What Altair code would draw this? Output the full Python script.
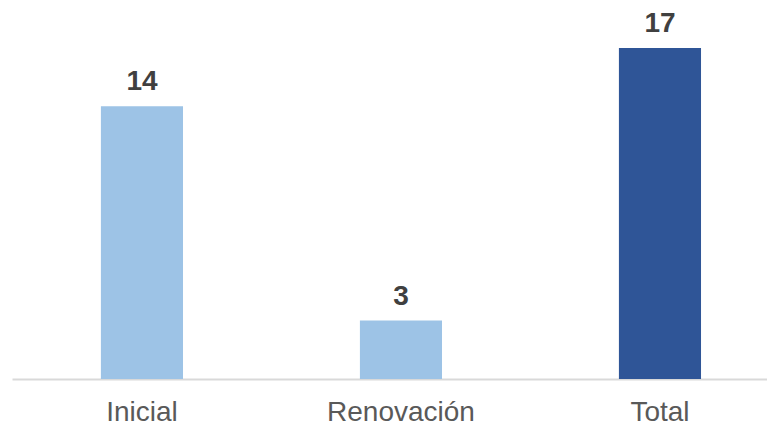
import altair as alt
import pandas as pd

categories = ["Inicial", "Renovación", "Total"]
values = [14, 3, 17]
colors = ["#9DC3E6", "#9DC3E6", "#2F5597"]

df = pd.DataFrame({"cat": categories, "val": values, "color": colors})

x = alt.X("cat:N", sort=categories, title=None,
          scale=alt.Scale(paddingInner=0.683, paddingOuter=0.299, align=0.574),
          axis=alt.Axis(labelAngle=0, labelFontSize=28, labelColor="#595959",
                        labelFont="Liberation Sans", ticks=False, labelPadding=19,
                        domainColor="#D9D9D9", domainWidth=2, grid=False))
y = alt.Y("val:Q", title=None, scale=alt.Scale(domain=[0, 19.05], nice=False),
          axis=None)

bars = alt.Chart(df).mark_bar().encode(x=x, y=y, color=alt.Color("color:N", scale=None))
text = alt.Chart(df).mark_text(baseline="bottom", dy=-10, fontSize=28, fontWeight="bold",
                               font="Liberation Sans", color="#404040").encode(
    x=alt.X("cat:N", sort=categories), y="val:Q", text="val:Q")

chart = (bars + text).properties(
    width=755, height=371,
    padding={"left": 4, "top": 0, "right": 0, "bottom": 50},
    autosize=alt.AutoSizeParams(type="none"),
).configure_view(stroke=None)

chart.save("out.html", embed_options={"renderer": "svg", "actions": False})
